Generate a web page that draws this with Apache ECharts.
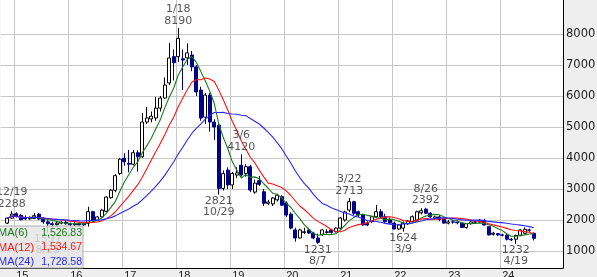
<!DOCTYPE html>
<html><head><meta charset="utf-8">
<script src="https://cdn.jsdelivr.net/npm/echarts@6/dist/echarts.min.js"></script>
<style>html,body{margin:0;padding:0;background:#eee}#c{width:597px;height:277px}</style>
</head><body><div id="c"></div>
<script>
// ---- categories (monthly, Oct 2014 .. Feb 2025) ----
const categoryStartYear = 2014, categoryStartMonth = 10, categoryCount = 125;
const categories = [];
for (let i = 0; i < categoryCount; i++) {
  const m = categoryStartMonth - 1 + i;
  categories.push((categoryStartYear + Math.floor(m / 12)) + '/' + String(m % 12 + 1).padStart(2, '0'));
}
const dataStartIndex = 1; // first candle: Nov 2014
const yearLabels = ['2015','2016','2017','2018','2019','2020','2021','2022','2023','2024'];

// ---- monthly OHLC, Nov 2014 .. Aug 2024 ----
const opens = [1900,2060,
 2200,2150,2080,2040,2050,2190,2030,1940,1880,1850,1900,1930,
 1880,1850,1890,1880,1894,2268,2000,2100,2280,2720,2960,3500,
 3990,3830,3800,4170,4040,5160,5260,5290,5610,5935,6420,7270,
 7270,7200,7230,7320,6940,6190,5320,6030,5160,5060,3020,3610,
 3130,3450,3770,3500,3720,2900,3270,2910,2540,2520,2650,2750,
 2550,2190,1680,1420,1600,1680,1580,1420,1520,1600,1680,1620,
 1740,2000,2320,2590,2268,2160,1900,1945,2106,2268,2106,2000,
 1900,1710,1740,1880,1945,2000,2230,2350,2220,2060,2100,2050,
 1900,1940,1930,1900,1760,1880,1940,1930,1990,1785,1540,1560,
 1520,1510,1380,1380,1510,1570,1680,1570];
const highs = [2080,2288,
 2250,2200,2150,2120,2220,2230,2100,1990,1950,1960,1980,1970,
 1920,1990,1930,1900,2429,2300,2120,2360,2760,3000,3480,4000,
 4150,4260,4260,4250,5450,5650,5500,5970,6000,6600,7710,7500,
 8190,7500,7700,7450,7000,6300,6100,6100,5250,5100,3600,3700,
 3550,3700,4120,3800,3780,3300,3420,3000,2650,2740,2850,2800,
 2600,2250,1750,1720,1750,1750,1620,1560,1700,1700,1720,1760,
 2100,2300,2713,2620,2300,2200,1960,2120,2480,2350,2200,2080,
 1950,1860,1950,2000,2150,2300,2380,2392,2260,2140,2150,2080,
 2000,2000,1980,1920,1900,1970,1990,2030,2040,1800,1620,1580,
 1560,1540,1420,1530,1700,1760,1720,1600];
const lows = [1870,2030,
 2080,1990,2000,2000,2030,2000,1880,1597,1750,1820,1860,1850,
 1760,1780,1820,1800,1784,1950,1960,2080,2260,2690,2900,3450,
 3750,3540,3760,3560,4000,5100,5150,5200,5500,5900,6350,6500,
 7100,6190,7000,6800,6000,5200,5100,4850,4580,2821,2950,3000,
 3000,3350,3400,3400,2900,2850,3100,2450,2480,2450,2600,2450,
 2100,1700,1300,1400,1550,1550,1380,1231,1480,1560,1560,1600,
 1700,1950,2250,2150,2100,1820,1800,1900,2080,2050,1900,1880,
 1700,1680,1624,1840,1900,1980,2180,2200,2080,2000,1960,1880,
 1860,1880,1860,1740,1720,1850,1900,1900,1820,1500,1500,1480,
 1470,1340,1320,1232,1480,1560,1620,1340];
const closes = [2060,2190,
 2110,2010,2040,2080,2140,2030,1940,1880,1850,1900,1930,1880,
 1850,1870,1840,1840,2268,2000,2100,2320,2740,2960,3430,3960,
 3880,3800,4170,4040,5160,5290,5350,5610,5935,6355,7225,7075,
 7860,7160,7390,6940,6130,5290,6030,5160,5000,3020,3500,3130,
 3500,3520,3450,3720,2968,3190,3150,2540,2580,2710,2800,2480,
 2160,1740,1420,1680,1620,1580,1420,1280,1680,1620,1600,1740,
 2065,2260,2590,2215,2160,1840,1840,2106,2268,2106,1945,1900,
 1710,1840,1900,1960,2106,2268,2300,2220,2100,2100,2020,1900,
 1940,1930,1910,1760,1880,1940,1930,1990,1840,1520,1575,1520,
 1510,1380,1360,1500,1680,1700,1670,1410];

// ---- annotations ----
const peakMonths = ['2014/12','2018/01','2019/03','2021/03','2022/08'];
const peakDates  = ['12/19','1/18','3/6','3/22','8/26'];
const peakValues = [2288,8190,4120,2713,2392];
const troughMonths = ['2015/08','2018/10','2020/08','2022/03','2024/04'];
const troughDates  = ['8/25','10/29','8/7','3/9','4/19'];
const troughValues = [1597,2821,1231,1624,1232];

// ---- axis ticks & legend ----
const yTicks = [1000,2000,3000,4000,5000,6000,7000,8000];
const maPeriods = [6,12,24];
const maNames = ['MA(6)','MA(12)','MA(24)'];
const maLegendValues = ['1,526.83','1,534.67','1,728.58'];
const maColors = ['#1a7a1a','#ff1414','#2828ff'];

// build candle data
const candle = categories.map((c, i) => {
  const k = i - dataStartIndex;
  if (k < 0 || k >= closes.length) return '-';
  return [opens[k], closes[k], lows[k], highs[k]];
});
function movingAverage(n) {
  return categories.map((c, i) => {
    const k = i - dataStartIndex;
    if (k < 0 || k >= closes.length) return '-';
    let s = 0, cnt = 0;
    for (let j = Math.max(0, k - n + 1); j <= k; j++) { s += closes[j]; cnt++; }
    return +(s / cnt).toFixed(2);
  });
}
const isYearStart = (i, v) => String(v).endsWith('/01') && yearLabels.includes(String(v).slice(0, 4));

const chart = echarts.init(document.getElementById('c'), null, {renderer: 'canvas'});
const labelFont = {fontFamily: 'DejaVu Sans', fontSize: 11, lineHeight: 11.5, color: '#2a2a2a'};

const series = [
  {
    type: 'line', data: [], silent: true,
    markLine: {
      silent: true, symbol: 'none', z: 1, animation: false,
      label: {show: false},
      lineStyle: {color: '#c8c8c8', type: 'solid', width: 1},
      data: yTicks.map(v => ({yAxis: v}))
    }
  },
  {
    type: 'candlestick', data: candle, barWidth: 3.6, z: 3,
    itemStyle: {color: '#ffffff', color0: '#00008b', borderColor: '#000000', borderColor0: '#00008b', borderColorDoji: '#000000', borderWidth: 1}
  }
];
maPeriods.forEach((p, idx) => {
  series.push({type: 'line', data: movingAverage(p), symbol: 'none', z: 4,
    lineStyle: {color: maColors[idx], width: 1.1}, silent: true});
});
series.push({
  type: 'scatter', symbolSize: 1, z: 5, silent: true,
  itemStyle: {color: 'rgba(0,0,0,0)'},
  data: peakMonths.map((m, i) => ({value: [m, peakValues[i]], name: peakDates[i]})),
  label: Object.assign({show: true, position: 'top', distance: 1,
    formatter: p => p.name + '\n' + p.value[1]}, labelFont)
});
series.push({
  type: 'scatter', symbolSize: 1, z: 5, silent: true,
  itemStyle: {color: 'rgba(0,0,0,0)'},
  data: troughMonths.map((m, i) => ({value: [m, troughValues[i]], name: troughDates[i]})),
  label: Object.assign({show: true, position: 'bottom', distance: 0,
    formatter: p => p.value[1] + '\n' + p.name}, labelFont)
});

const legendElems = [{
  type: 'rect', z: 100, shape: {x: -1, y: 226, width: 84, height: 42},
  style: {fill: 'rgba(228,228,228,0.82)', stroke: '#b0b0b0', lineWidth: 1}
}];
maNames.forEach((n, i) => {
  const y = 233 + i * 14.5;
  legendElems.push({type: 'text', z: 101, x: -2, y: y,
    style: {text: n, fill: maColors[i], font: '11px "Liberation Sans"', textVerticalAlign: 'middle'}});
  legendElems.push({type: 'text', z: 101, x: 82, y: y,
    style: {text: maLegendValues[i], fill: maColors[i], font: '10.5px "Liberation Sans"', textAlign: 'right', textVerticalAlign: 'middle'}});
});

chart.setOption({
  backgroundColor: '#eeeeee',
  animation: false,
  grid: {left: 0.5, right: 34, top: 0, bottom: 9, show: true, backgroundColor: '#ffffff', borderWidth: 0, outerBoundsMode: 'none'},
  xAxis: {
    type: 'category', data: categories, boundaryGap: true,
    axisLine: {show: true, lineStyle: {color: '#000', width: 1}},
    axisTick: {show: false},
    axisLabel: {interval: isYearStart, formatter: v => v.slice(2, 4), align: 'left', margin: 2,
      fontFamily: 'Liberation Sans', fontSize: 11, color: '#222'},
    splitLine: {show: true, interval: isYearStart, lineStyle: {color: '#c8c8c8', width: 1}}
  },
  yAxis: {
    type: 'value', position: 'right', min: 452, max: 9097, splitNumber: 9,
    axisLine: {show: true, lineStyle: {color: '#000', width: 1}},
    axisTick: {show: false},
    splitLine: {show: false},
    axisLabel: {showMinLabel: false, showMaxLabel: false, margin: 3,
      formatter: v => yTicks.includes(v) ? String(v) : '',
      fontFamily: 'DejaVu Sans', fontSize: 11.5, color: '#1a1a1a'}
  },
  series: series,
  graphic: {elements: legendElems}
});
</script>
</body></html>
